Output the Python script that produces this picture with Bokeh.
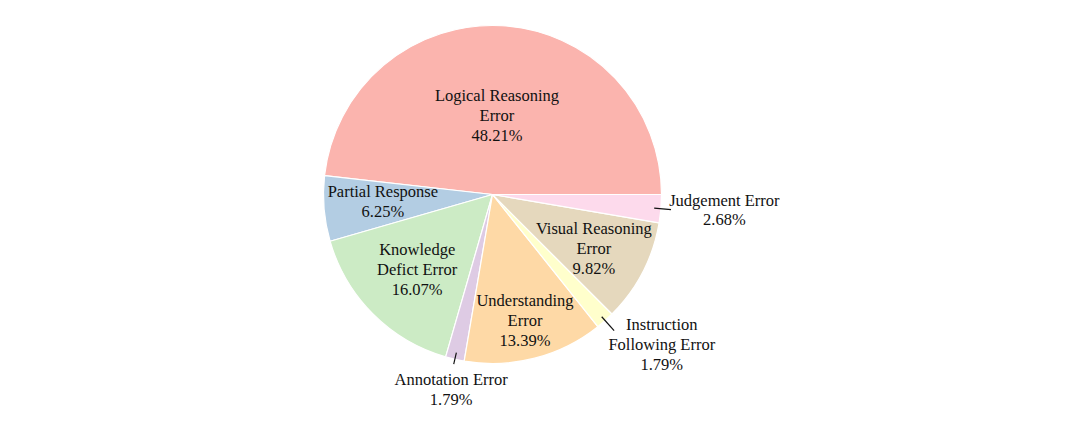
import numpy as np
from bokeh.plotting import figure
from bokeh.models import ColumnDataSource, Range1d
from bokeh.core.properties import value
from bokeh.embed import file_html
from bokeh.resources import INLINE

# ---- data ----
categories = ["Logical Reasoning\nError", "Partial Response", "Knowledge\nDefict Error",
              "Annotation Error", "Understanding\nError", "Instruction\nFollowing Error",
              "Visual Reasoning\nError", "Judgement Error"]
percents = [48.21, 6.25, 16.07, 1.79, 13.39, 1.79, 9.82, 2.68]
colors = ["#fbb4ae", "#b3cde3", "#ccebc5", "#decbe4", "#fed9a6", "#ffffcc", "#e5d8bd", "#fddaec"]

# label placement (radial distance in pie radii; angle offset in degrees)
label_r = [0.47, 0.65, 0.63, 1.18, 0.77, 1.34, 0.68, 1.375]
label_da = [0.0, -1.2, 0.0, 0.9, 0.0, 6.6, -0.8, 1.0]
outside = [False, False, False, True, False, True, False, True]
leader_r = [(0.96, 1.03), (0.97, 1.08), (0.96, 1.06)]

# ---- geometry ----
fr = np.array(percents) / sum(percents)
ends = np.cumsum(fr) * 2 * np.pi
starts = np.concatenate([[0.0], ends[:-1]])
mids = (starts + ends) / 2

S = 169.0  # pixels per radius
W, H = 1064, 410
cx, cy = 492, 194

p = figure(width=W, height=H, output_backend="svg", toolbar_location=None,
           x_range=Range1d(-cx / S, (W - cx) / S), y_range=Range1d(-(H - cy) / S, cy / S),
           min_border=0, background_fill_color="white", border_fill_color="white")
p.axis.visible = False
p.grid.visible = False
p.outline_line_color = None

src = ColumnDataSource(dict(start=starts, end=ends, color=colors))
p.wedge(x=0, y=0, radius=1.0, start_angle="start", end_angle="end", fill_color="color",
        line_color="white", line_width=1.2, source=src)

labels = []
for c, pc in zip(categories, percents):
    labels.append(f"{c}\n{pc:.2f}%")

la = mids + np.radians(label_da)
lx = np.array(label_r) * np.cos(la)
ly = np.array(label_r) * np.sin(la)
p.text(x=lx, y=ly, text=labels, text_align="center", text_baseline="middle",
       text_font=value("Liberation Serif"), text_font_size="16.5px", text_color="#111111",
       text_line_height=1.05)

# leader lines for outside labels
xs, ys = [], []
k = 0
for i, o in enumerate(outside):
    if o:
        r0, r1 = leader_r[k]
        k += 1
        a = mids[i]
        xs.append([r0 * np.cos(a), r1 * np.cos(a)])
        ys.append([r0 * np.sin(a), r1 * np.sin(a)])
p.multi_line(xs=xs, ys=ys, line_color="#111111", line_width=1.2)

open("out.html", "w").write(file_html(p, INLINE))
